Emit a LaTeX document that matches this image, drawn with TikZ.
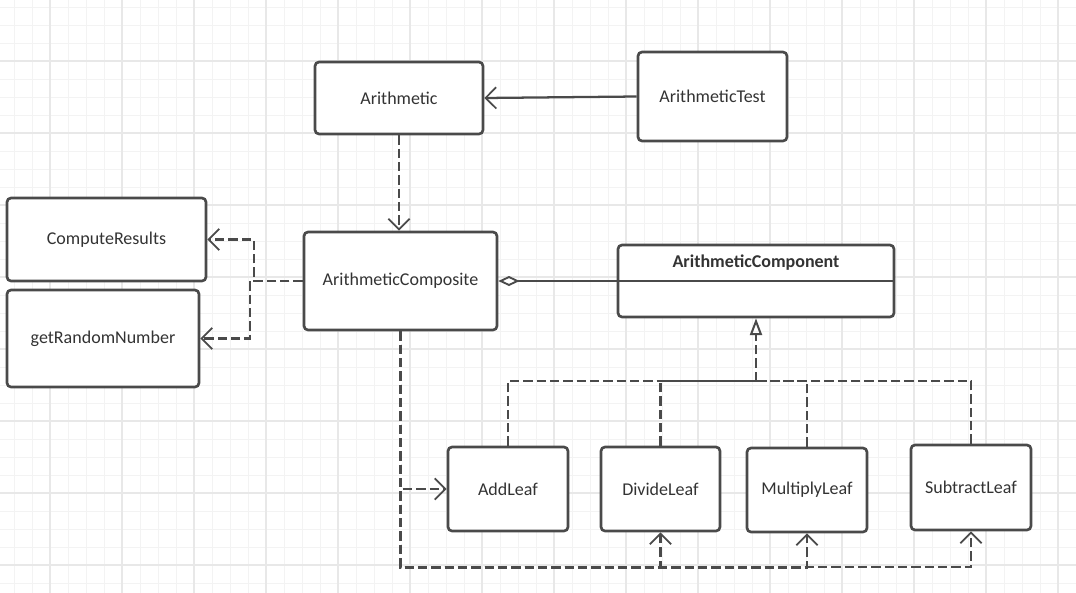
\documentclass[tikz,border=0pt]{standalone}
\usepackage{fontspec}
\setmainfont{Carlito}
\usepackage{tikz}
\usetikzlibrary{arrows.meta,calc}
\definecolor{boxline}{HTML}{4A4A4A}
\definecolor{connline}{HTML}{4A4A4A}
\definecolor{textgray}{HTML}{333333}
\definecolor{minorgridcol}{HTML}{F3F3F3}
\definecolor{majorgridcol}{HTML}{E8E8E8}
\tikzset{
  classbox/.style={draw=boxline, fill=white, line width=2pt, rounded corners=3pt,
    text=textgray, font=\fontsize{13.5}{16}\selectfont, inner sep=0pt},
  minorgrid/.style={draw=minorgridcol, line width=0.7pt},
  majorgrid/.style={draw=majorgridcol, line width=0.8pt},
  assoc/.style={draw=connline, line width=1.7pt, -{Straight Barb[length=8pt,width=16pt,line width=1.3pt]}},
  depend/.style={assoc, dash pattern=on 7pt off 3pt},
  realize/.style={draw=connline, line width=1.7pt, dash pattern=on 7pt off 3pt},
  aggr/.style={draw=connline, line width=1.7pt, {Diamond[open,length=16pt,width=7.5pt,line width=1.4pt]}-}
}
\begin{document}
\begin{tikzpicture}[x=0.75pt,y=-0.75pt]
\useasboundingbox (0,0) rectangle (1076,593);
\fill[white] (0,0) rectangle (1076,593);
\foreach \gx in {14,32,...,1076} \draw[minorgrid] (\gx,0) -- (\gx,593);
\foreach \gy in {7,25,...,593} \draw[minorgrid] (0,\gy) -- (1076,\gy);
\foreach \gx in {50,122,...,1076} \draw[majorgrid] (\gx,0) -- (\gx,593);
\foreach \gy in {61,133,...,593} \draw[majorgrid] (0,\gy) -- (1076,\gy);

\node[classbox, minimum width=126pt, minimum height=54pt] (arith) at (399,98) {Arithmetic};
\node[classbox, minimum width=111.75pt, minimum height=66.75pt] (test) at (712.5,96.5) {ArithmeticTest};
\node[classbox, minimum width=149.25pt, minimum height=62.25pt] (compute) at (106.5,239.5) {ComputeResults};
\node[classbox, minimum width=144pt, minimum height=72.75pt] (random) at (103,338.5) {getRandomNumber};
\node[classbox, minimum width=144.75pt, minimum height=73.5pt] (composite) at (400.5,281) {ArithmeticComposite};
\node[classbox, minimum width=207pt, minimum height=54pt] (component) at (756,281) {};
\node[text=textgray, font=\fontsize{13.5}{16}\selectfont\bfseries] (componenttitle) at (756,263) {ArithmeticComponent};
\draw[boxline, line width=2pt] (component.west) -- (component.east);
\node[classbox, minimum width=90pt, minimum height=63pt] (addleaf) at (508,489) {AddLeaf};
\node[classbox, minimum width=89.25pt, minimum height=63pt] (divideleaf) at (660.5,489) {DivideLeaf};
\node[classbox, minimum width=90pt, minimum height=63pt] (multiplyleaf) at (807,490) {MultiplyLeaf};
\node[classbox, minimum width=90pt, minimum height=63.75pt] (subtractleaf) at (971,487.5) {SubtractLeaf};

\coordinate (bus) at (756,381);

\draw[assoc] (test.west) -- (arith.east);
\draw[depend] (arith.south) -- (arith.south |- composite.north);
\draw[depend] (composite.west) -- ++(-49,0) |- (compute.east);
\draw[depend] (composite.west) -- ++(-53,0) |- (random.east);
\draw[aggr] (composite.east) -- (component.west);

\draw[realize] (addleaf.north) |- (bus);
\draw[realize] (divideleaf.north) |- (bus);
\draw[realize] (multiplyleaf.north) |- (bus);
\draw[realize] (subtractleaf.north) |- (bus);
\draw[realize, line width=2.2pt, -{Triangle[open,length=12.5pt,width=9pt,line width=1.5pt]}] (bus) -- (component.south);

\draw[depend, line width=2.1pt] (composite.south) |- (addleaf.west);
\draw[depend, line width=2.1pt] (composite.south) -- ++(0,236) -| (divideleaf.south);
\draw[depend, line width=2.1pt] (composite.south) -- ++(0,236) -| (multiplyleaf.south);
\draw[depend] (composite.south) -- ++(0,236) -| (subtractleaf.south);
\end{tikzpicture}
\end{document}
